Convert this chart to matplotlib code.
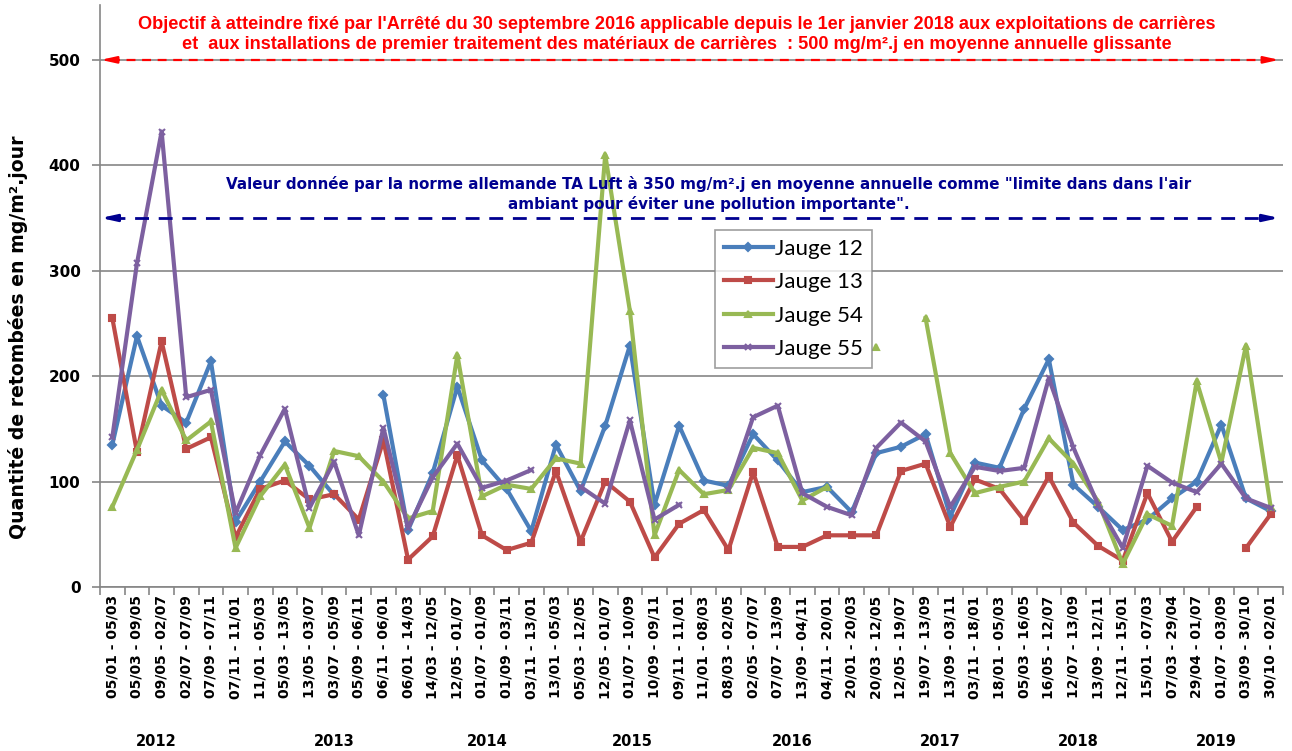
import numpy as np
import matplotlib.pyplot as plt
from matplotlib.transforms import blended_transform_factory

nan = np.nan

periodes = ['05/01 - 05/03', '05/03 - 09/05', '09/05 - 02/07', '02/07 - 07/09', '07/09 - 07/11',
            '07/11 - 11/01', '11/01 - 05/03', '05/03 - 13/05', '13/05 - 03/07', '03/07 - 05/09',
            '05/09 - 06/11', '06/11 - 06/01', '06/01 - 14/03', '14/03 - 12/05', '12/05 - 01/07',
            '01/07 - 01/09', '01/09 - 03/11', '03/11 - 13/01', '13/01 - 05/03', '05/03 - 12/05',
            '12/05 - 01/07', '01/07 - 10/09', '10/09 - 09/11', '09/11 - 11/01', '11/01 - 08/03',
            '08/03 - 02/05', '02/05 - 07/07', '07/07 - 13/09', '13/09 - 04/11', '04/11 - 20/01',
            '20/01 - 20/03', '20/03 - 12/05', '12/05 - 19/07', '19/07 - 13/09', '13/09 - 03/11',
            '03/11 - 18/01', '18/01 - 05/03', '05/03 - 16/05', '16/05 - 12/07', '12/07 - 13/09',
            '13/09 - 12/11', '12/11 - 15/01', '15/01 - 07/03', '07/03 - 29/04', '29/04 - 01/07',
            '01/07 - 03/09', '03/09 - 30/10', '30/10 - 02/01']

annees = ['2012', '2013', '2014', '2015', '2016', '2017', '2018', '2019']
pos_annees = [1.8, 9.0, 15.2, 21.1, 27.6, 33.6, 39.2, 44.8]

jauge_12 = [135, 238, 172, 156, 214, 62, 100, 138, 115, 87, nan, 182, 54, 108, 190, 120,
            93, 53, 135, 91, 153, 229, 78, 153, 101, 96, 145, 120, 90, 95, 71, 127,
            133, 145, 67, 118, 113, 169, 216, 97, 76, 54, 64, 84, 100, 154, 84, 72]
jauge_13 = [255, 128, 233, 131, 142, 47, 93, 101, 83, 88, 64, 139, 26, 48, 125, 49,
            35, 42, 110, 43, 100, 81, 28, 60, 73, 35, 109, 38, 38, 49, 49, 49,
            110, 117, 57, 102, 93, 63, 105, 61, 39, 25, 89, 43, 76, nan, 37, 69]
jauge_54 = [76, 130, 187, 139, 157, 37, 86, 116, 56, 129, 124, 100, 65, 72, 220, 86,
            97, 93, 122, 117, 410, 262, 49, 111, 88, 92, 132, 127, 82, 95, nan, 228,
            nan, 255, 127, 89, 95, 100, 141, 117, 81, 22, 69, 58, 195, 118, 229, 76]
jauge_55 = [142, 307, 432, 180, 187, 70, 125, 169, 75, 119, 49, 151, 56, 104, 136, 94,
            101, 111, nan, 95, 79, 158, 64, 78, nan, 92, 161, 172, 89, 76, 68, 132,
            156, 138, 76, 114, 110, 113, 198, 132, 78, 37, 115, 99, 90, 117, 84, 75]

objectif = 500
ta_luft = 350

texte_objectif = ("Objectif à atteindre fixé par l'Arrêté du 30 septembre 2016 applicable depuis le 1er janvier 2018 aux exploitations de carrières\n"
                  "et  aux installations de premier traitement des matériaux de carrières  : 500 mg/m².j en moyenne annuelle glissante")
texte_luft = ("Valeur donnée par la norme allemande TA Luft à 350 mg/m².j en moyenne annuelle comme \"limite dans dans l'air\n"
              "ambiant pour éviter une pollution importante\".")

gris = '#868686'
rouge = '#FF0000'
marine = '#000090'

fig = plt.figure(figsize=(12.92, 7.51), dpi=100)
ax = fig.add_axes([0.0774, 0.2184, 0.9156, 0.7749])

x = np.arange(len(periodes))
series = [('Jauge 12', jauge_12, '#4A7EBB', 'D'),
          ('Jauge 13', jauge_13, '#BE4B48', 's'),
          ('Jauge 54', jauge_54, '#98B954', '^'),
          ('Jauge 55', jauge_55, '#7D60A0', 'x')]
for nom, vals, col, mk in series:
    ax.plot(x, np.array(vals, dtype=float), color=col, lw=3, marker=mk, ms=4,
            mec=col, mfc=col, mew=1.5, label=nom, zorder=3)

ax.set_xlim(-0.5, len(periodes) - 0.5)
ax.set_ylim(0, 552)
ax.set_yticks(range(0, 501, 100))
ax.yaxis.grid(True, color=gris, lw=1.2)
ax.set_axisbelow(True)

ax.set_xticks(np.arange(-0.5, len(periodes), 1))
ax.set_xticklabels([])
ax.set_xticks(x, minor=True)
ax.set_xticklabels(periodes, minor=True, rotation=90, fontsize=10, fontweight='bold')
ax.tick_params(axis='x', which='major', length=6, color=gris, width=1.2)
ax.tick_params(axis='x', which='minor', length=0, pad=6)
ax.tick_params(axis='y', length=6, color=gris, width=1.2, labelsize=11, pad=8)
for lab in ax.get_yticklabels():
    lab.set_fontweight('bold')

for s in ['top', 'right']:
    ax.spines[s].set_visible(False)
for s in ['left', 'bottom']:
    ax.spines[s].set_color(gris)
    ax.spines[s].set_linewidth(1.2)

fig.text(18 / 1292, 1 - 337 / 751, 'Quantité de retombées en mg/m².jour', rotation=90,
         fontsize=13.6, fontweight='bold', ha='center', va='center')

# lignes de référence avec flèches
x0, x1 = -0.47, 47.35
for val, col, lw, dash in [(objectif, rouge, 1.6, (4, 3)), (ta_luft, marine, 2.0, (5, 3.5))]:
    ax.plot([x0 + 0.4, x1 - 0.4], [val, val], color=col, lw=lw, dashes=dash, zorder=4)
    for a, b in [(x0 + 0.6, x0), (x1 - 0.6, x1)]:
        ax.annotate('', xy=(b, val), xytext=(a, val),
                    arrowprops=dict(arrowstyle='-|>,head_length=0.9,head_width=0.2',
                                    color=col, lw=lw, shrinkA=0, shrinkB=0), zorder=4)

ax.text(22.9, 542, texte_objectif, color=rouge, fontsize=13.1, fontweight='bold',
        family='Liberation Sans', ha='center', va='top', linespacing=1.3)
ax.text(24.2, 390, texte_luft, color=marine, fontsize=10.9, fontweight='bold',
        ha='center', va='top', linespacing=1.35)

trans = blended_transform_factory(ax.transData, fig.transFigure)
for an, p in zip(annees, pos_annees):
    ax.text(p, 1 - 742 / 751, an, transform=trans, fontsize=10.5, fontweight='bold',
            ha='center', va='center')

leg = ax.legend(loc='upper left', bbox_to_anchor=(715 / 1292, 1 - 230 / 751),
                bbox_transform=fig.transFigure, prop={'family': 'Lato', 'size': 16},
                frameon=True, fancybox=False, edgecolor=gris, handlelength=2.2,
                handletextpad=0.1, labelspacing=0.6, borderpad=0.4, borderaxespad=0)
leg.get_frame().set_linewidth(1.2)

fig.savefig('out.png', dpi=100)
